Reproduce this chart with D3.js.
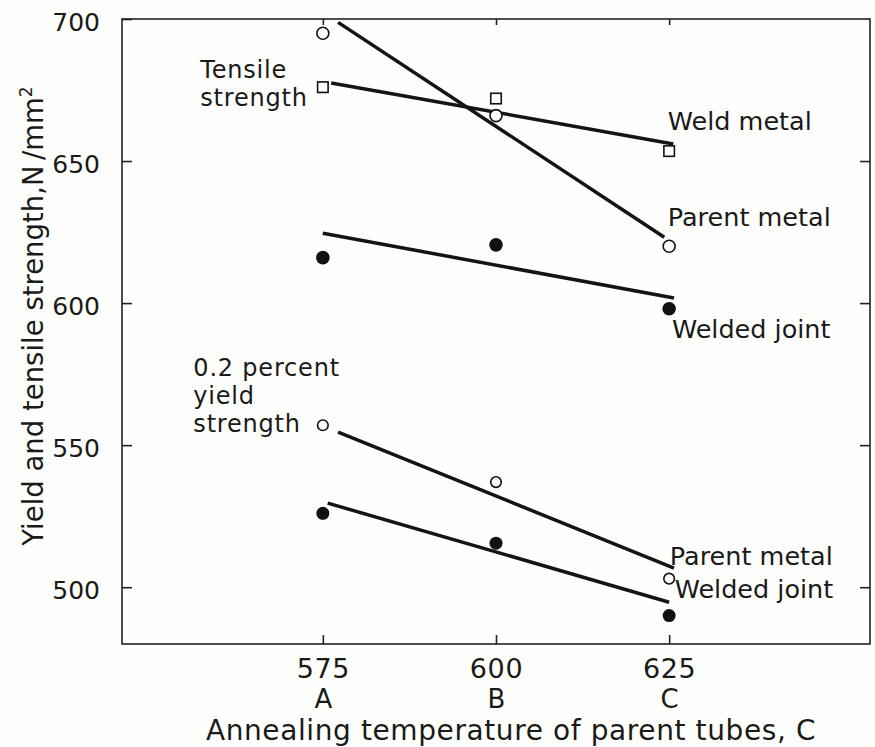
<!DOCTYPE html>
<html>
<head>
<meta charset="utf-8">
<script src="https://cdn.jsdelivr.net/npm/d3@7"></script>
<style>
  html, body { margin: 0; padding: 0; background: #fefefc; }
  svg { display: block; }
  text { font-family: "DejaVu Sans", sans-serif; fill: #1a1a1a; }
</style>
</head>
<body>
<svg id="chart" width="875" height="747"></svg>
<script>
// ---------- data ----------
const temps = [575, 600, 625];
const tempLetters = ["A", "B", "C"];
const yTicks = [500, 550, 600, 650, 700];

// tensile strength
const tensileParent = [695, 666, 620];     // open circles
const tensileWeld   = [676, 672, 653.5];   // open squares
const tensileJoint  = [616, 620.5, 598];   // filled circles
// 0.2 percent yield strength
const yieldParent   = [557, 537, 503];     // open circles
const yieldJoint    = [526, 515.5, 490];   // filled circles

// fitted straight lines: [temperature, strength] end points
const fitTensileParent = [[577.2, 698.8], [624.3, 623.2]];
const fitTensileWeld   = [[576.2, 677.5], [625.6, 656.0]];
const fitTensileJoint  = [[575.0, 624.6], [625.7, 601.8]];
const fitYieldParent   = [[577.2, 554.6], [625.7, 506.7]];
const fitYieldJoint    = [[575.7, 529.6], [625.0, 494.7]];

// annotation labels, anchored in data space [temperature, strength]
const annotations = [
  { lines: ["Tensile", "strength"], at: [557.3, 679.2], lh: 28, fs: 24, ls: 0.8 },
  { lines: ["Weld metal"], at: [624.8, 660.9], lh: 0, fs: 25.5, ls: 0 },
  { lines: ["Parent metal"], at: [624.8, 627.1], lh: 0, fs: 25.5, ls: 0 },
  { lines: ["Welded joint"], at: [625.4, 587.7], lh: 0, fs: 25.5, ls: 0 },
  { lines: ["0.2 percent", "yield", "strength"], at: [556.3, 574.3], lh: 28, fs: 24, ls: 0.8 },
  { lines: ["Parent metal"], at: [625.1, 507.8], lh: 0, fs: 25.5, ls: 0 },
  { lines: ["Welded joint"], at: [625.8, 496.2], lh: 0, fs: 25.5, ls: 0 }
];

// ---------- chart ----------
const svg = d3.select("#chart");
const x = d3.scaleLinear().domain([546, 654]).range([122, 870]);
const y = d3.scaleLinear().domain([480, 700]).range([644, 19]);

const axisColor = "#222";

// frame
svg.append("rect")
  .attr("x", x(546)).attr("y", y(700))
  .attr("width", x(654) - x(546)).attr("height", y(480) - y(700))
  .attr("fill", "none").attr("stroke", axisColor).attr("stroke-width", 1.6);

// left axis
const gLeft = svg.append("g").attr("transform", `translate(${x(546)},0)`)
  .call(d3.axisLeft(y).tickValues(yTicks).tickSizeInner(-10).tickSizeOuter(0).tickPadding(22).tickFormat(d3.format("d")));
gLeft.select(".domain").remove();
gLeft.selectAll("line").attr("stroke", axisColor).attr("stroke-width", 1.6);
gLeft.selectAll("text").style("font-family", "DejaVu Sans").style("font-size", "25px").attr("fill", "#1a1a1a").attr("dy", "0.45em");

// right axis
const gRight = svg.append("g").attr("transform", `translate(${x(654)},0)`)
  .call(d3.axisRight(y).tickValues(yTicks.slice(0, 4)).tickSizeInner(-10).tickSizeOuter(0).tickFormat(""));
gRight.select(".domain").remove();
gRight.selectAll("line").attr("stroke", axisColor).attr("stroke-width", 1.6);

// top axis
const gTop = svg.append("g").attr("transform", `translate(0,${y(700)})`)
  .call(d3.axisTop(x).tickValues(temps).tickSizeInner(-6).tickSizeOuter(0).tickFormat(""));
gTop.select(".domain").remove();
gTop.selectAll("line").attr("stroke", axisColor).attr("stroke-width", 1.6);

// bottom axis
const gBottom = svg.append("g").attr("transform", `translate(0,${y(480)})`)
  .call(d3.axisBottom(x).tickValues(temps).tickSizeInner(-9).tickSizeOuter(0).tickPadding(0).tickFormat(d3.format("d")));
gBottom.select(".domain").remove();
gBottom.selectAll("line").attr("stroke", axisColor).attr("stroke-width", 1.6);
gBottom.selectAll("text").style("font-family", "DejaVu Sans").style("font-size", "27px")
  .style("letter-spacing", "0.6px")
  .attr("fill", "#1a1a1a").attr("y", 33.5).attr("dy", null);
gBottom.selectAll(".tick").append("text")
  .text((d, i) => tempLetters[i])
  .attr("y", 64).attr("text-anchor", "middle")
  .style("font-family", "DejaVu Sans").style("font-size", "26px").attr("fill", "#1a1a1a");

// axis titles
svg.append("text")
  .attr("x", 511).attr("y", 740).attr("text-anchor", "middle")
  .style("font-size", "28px").style("letter-spacing", "0.6px")
  .text("Annealing temperature of parent tubes, C");

const yTitle = svg.append("text")
  .attr("transform", "translate(43,316) rotate(-90)")
  .attr("text-anchor", "middle")
  .style("font-size", "27.5px");
yTitle.append("tspan").text("Yield and tensile strength,N\u2009/mm");
yTitle.append("tspan").text("2").attr("dy", -11).style("font-size", "17px");

// fitted lines
const line = d3.line().x(d => x(d[0])).y(d => y(d[1]));
const fits = [fitTensileParent, fitTensileWeld, fitTensileJoint, fitYieldParent, fitYieldJoint];
svg.append("g").selectAll("path").data(fits).join("path")
  .attr("d", line).attr("fill", "none").attr("stroke", "#141414").attr("stroke-width", 3.5)
  .attr("stroke-linecap", "butt");

// markers
function circles(values, r, filled) {
  svg.append("g").selectAll("circle").data(values).join("circle")
    .attr("cx", (d, i) => x(temps[i])).attr("cy", d => y(d)).attr("r", r)
    .attr("fill", filled ? "#111" : "#fefefc")
    .attr("stroke", "#111").attr("stroke-width", filled ? 0 : 1.6);
}
function squares(values, s) {
  svg.append("g").selectAll("rect").data(values).join("rect")
    .attr("x", (d, i) => x(temps[i]) - s / 2).attr("y", d => y(d) - s / 2)
    .attr("width", s).attr("height", s)
    .attr("fill", "#fefefc").attr("stroke", "#111").attr("stroke-width", 1.6);
}
circles(tensileParent, 6, false);
squares(tensileWeld, 10.5);
circles(tensileJoint, 6.8, true);
circles(yieldParent, 5.3, false);
circles(yieldJoint, 6.5, true);

// annotations (one text element per line)
annotations.forEach(a => {
  a.lines.forEach((s, i) => {
    svg.append("text")
      .attr("x", x(a.at[0])).attr("y", y(a.at[1]) + i * a.lh)
      .style("font-size", a.fs + "px")
      .style("letter-spacing", a.ls + "px")
      .text(s);
  });
});
</script>
</body>
</html>
